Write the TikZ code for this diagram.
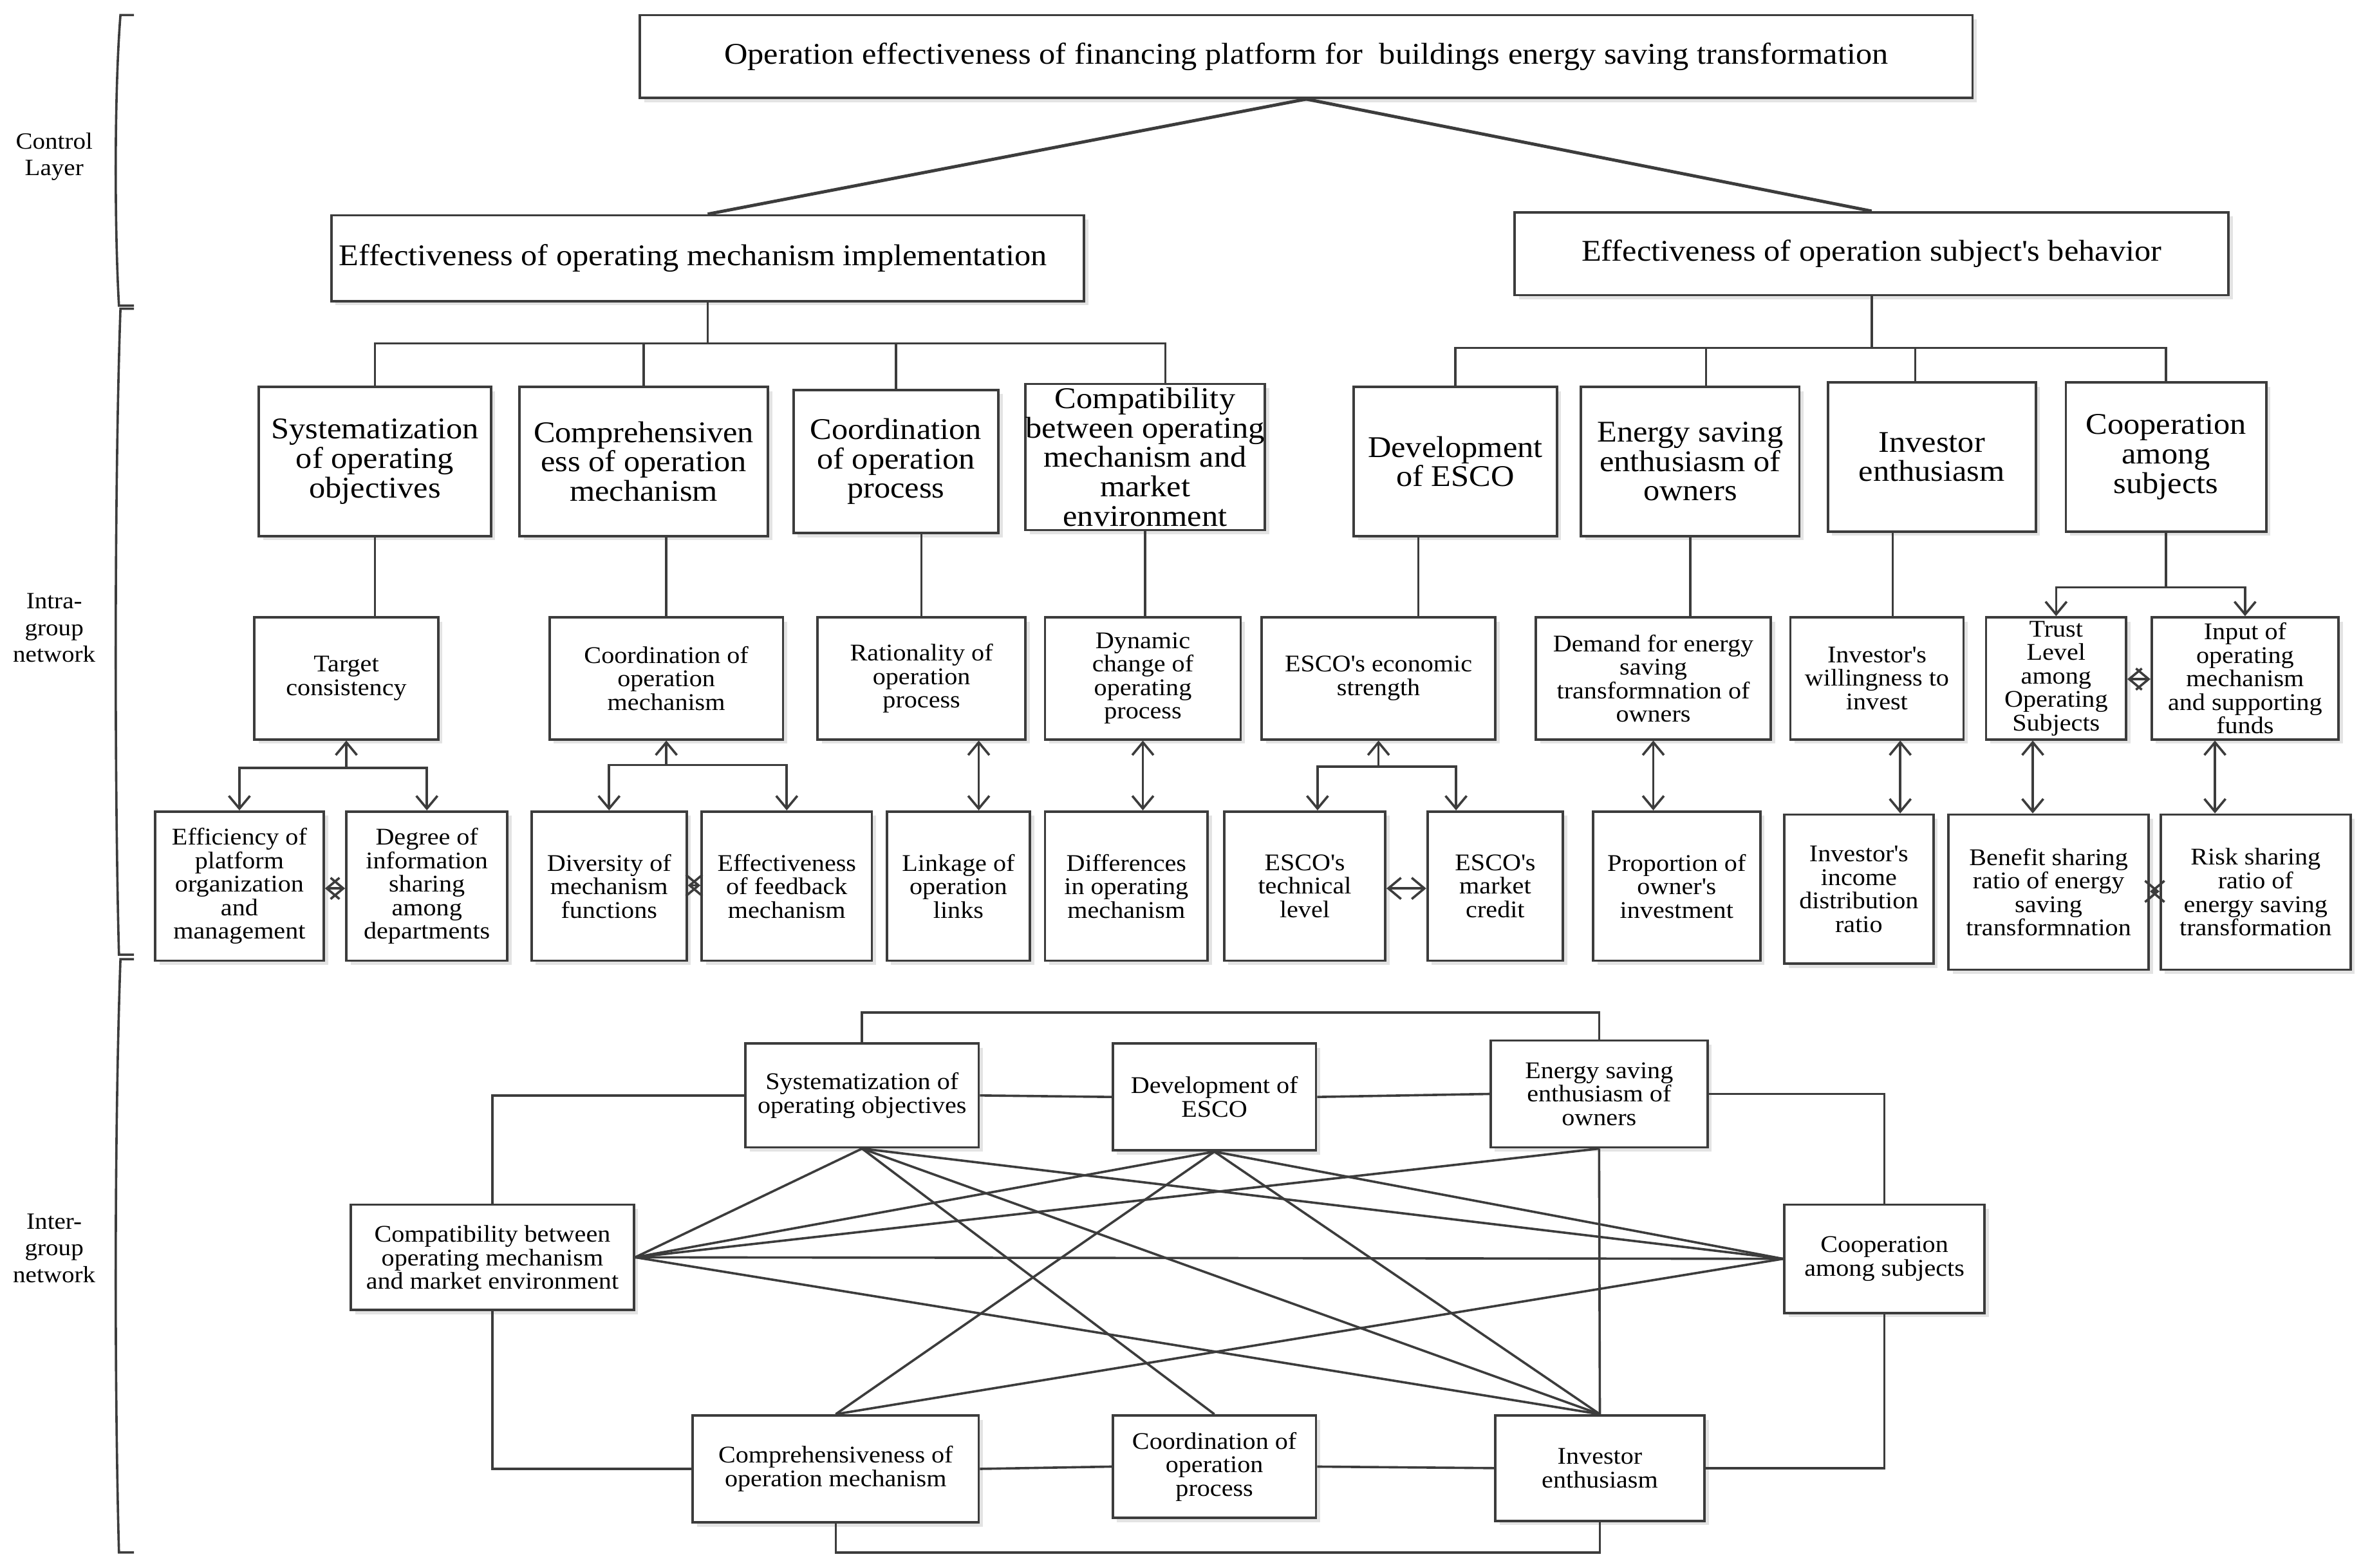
\documentclass[tikz,border=0pt]{standalone}
\usepackage{fontspec}
\setmainfont{Liberation Serif}[FakeStretch=1.08]
\usetikzlibrary{arrows.meta,shadows}
\definecolor{lc}{RGB}{60,60,60}
\newcommand\apo{\textquotesingle}
\tikzset{
  bx/.style={draw=lc, line width=1.15pt, fill=white,
    drop shadow={shadow xshift=2pt,shadow yshift=-2pt,fill=black!11,opacity=1},
    align=center, inner sep=1pt},
  sz/.style 2 args={minimum width=#1*0.025cm, minimum height=#2*0.025cm},
  Lfont/.style={font=\fontsize{14.2}{13.9}\selectfont},
  Sfont/.style={font=\fontsize{11.3}{11.1}\selectfont},
  Cfont/.style={font=\fontsize{11}{12.6}\selectfont, align=center},
  ln/.style={draw=lc, line width=1.1pt},
  tln/.style={draw=lc, line width=1.5pt},
  arr/.style={ln, -{Straight Barb[length=6pt,width=10pt]}},
  dbl/.style={ln, {Straight Barb[length=6pt,width=10pt]}-{Straight Barb[length=6pt,width=10pt]}},
}
\begin{document}
\begin{tikzpicture}[x=0.025cm,y=-0.025cm]
\useasboundingbox (0,0) rectangle (1568,1041);

% ---------- layer labels and brackets ----------
\node[Cfont] (lab1) at (36,104) {Control\\Layer};
\node[Cfont] (lab2) at (36,417) {Intra-\\group\\network};
\node[Cfont] (lab3) at (36,829) {Inter-\\group\\network};
\draw[ln] (89,10) -- (80,10) .. controls (76,60) and (76,150) .. (79,203) -- (89,203);
\draw[ln] (89,205) -- (80,205) .. controls (76,320) and (76,520) .. (79,634) -- (89,634);
\draw[ln] (89,637) -- (80,637) .. controls (76,750) and (76,920) .. (79,1031) -- (89,1031);

% ---------- control layer ----------
\node[bx,Lfont,sz={885}{55}] (T) at (867.5,37.5) {Operation effectiveness of financing platform for\ \ buildings energy saving transformation};
\node[bx,Lfont,sz={500}{57}] (L2a) at (470,171.5) {Effectiveness of operating mechanism implementation\hspace*{14pt}};
\node[bx,Lfont,sz={474}{55}] (L2b) at (1243,168.5) {Effectiveness of operation subject\apo s behavior};
\draw[tln] (T.south) -- (L2a.north);
\draw[tln] (T.south) -- (L2b.north);

% ---------- intra-group level 3 ----------
\node[bx,Lfont,sz={154}{99}] (A1) at (249,306.5) {Systematization\\of operating\\objectives};
\node[bx,Lfont,sz={165}{99}] (A2) at (427.5,306.5) {Comprehensiven\\ess of operation\\mechanism};
\node[bx,Lfont,sz={136}{95}] (A3) at (595,306.5) {Coordination\\of operation\\process};
\node[bx,Lfont,sz={159}{97},label={[Lfont,align=center]center:Compatibility\\between operating\\mechanism and\\market\\environment}] (A4) at (760.5,303.5) {};
\node[bx,Lfont,sz={135}{99}] (B1) at (966.5,306.5) {Development\\of ESCO};
\node[bx,Lfont,sz={145}{99}] (B2) at (1122.5,306.5) {Energy saving\\enthusiasm of\\owners};
\node[bx,Lfont,sz={138}{99}] (B3) at (1283,303.5) {Investor\\enthusiasm};
\node[bx,Lfont,sz={133}{99}] (B4) at (1438.5,303.5) {Cooperation\\among\\subjects};

\draw[ln] (L2a.south) -- (L2a.south |- 0,228) coordinate (la);
\draw[ln] (A1.north) |- (la) -| (774,0 |- A4.north);
\draw[ln] (A2.north) -- (A2.north |- la);
\draw[ln] (A3.north) -- (A3.north |- la);
\draw[ln] (L2b.south) -- (L2b.south |- 0,231) coordinate (rb);
\draw[ln] (B1.north) |- (rb) -| (B4.north);
\draw[ln] (1133,0 |- rb) -- (1133,0 |- B2.north);
\draw[ln] (1272,0 |- rb) -- (1272,0 |- B3.north);

% ---------- level 4 ----------
\node[bx,Sfont,sz={122}{81}] (a1) at (230,450.5) {Target\\consistency};
\node[bx,Sfont,sz={155}{81}] (a2) at (442.5,450.5) {Coordination of\\operation\\mechanism};
\node[bx,Sfont,sz={138}{81}] (a3) at (612,450.5) {Rationality of\\operation\\process};
\node[bx,Sfont,sz={130}{81}] (a4) at (759,450.5) {Dynamic\\change of\\operating\\process};
\node[bx,Sfont,sz={155}{81}] (b1) at (915.5,450.5) {ESCO\apo s economic\\strength};
\node[bx,Sfont,sz={156}{81}] (b2) at (1098,450.5) {Demand for energy\\saving\\transformnation of\\owners};
\node[bx,Sfont,sz={115}{81}] (b3) at (1246.5,450.5) {Investor\apo s\\willingness to\\invest};
\node[bx,Sfont,sz={93}{81}] (b4a) at (1365.5,450.5) {Trust\\Level\\among\\Operating\\Subjects};
\node[bx,Sfont,sz={124}{81}] (b4b) at (1491,450.5) {Input of\\operating\\mechanism\\and supporting\\funds};

\draw[ln] (A1.south) -- (A1.south |- a1.north);
\draw[ln] (a2.north |- A2.south) -- (a2.north);
\draw[ln] (a3.north |- A3.south) -- (a3.north);
\draw[ln] (A4.south) -- (A4.south |- a4.north);
\draw[ln] (942,0 |- B1.south) -- (942,0 |- b1.north);
\draw[ln] (B2.south) -- (B2.south |- b2.north);
\draw[ln] (1257,0 |- B3.south) -- (1257,0 |- b3.north);
\draw[ln] (B4.south) -- (B4.south |- 0,390) coordinate (bq);
\draw[arr] (bq) -| (b4a.north);
\draw[arr] (bq) -| (b4b.north);

% ---------- level 5 ----------
\node[bx,Sfont,sz={112}{99}] (e1) at (159,588.5) {Efficiency of\\platform\\organization\\and\\management};
\node[bx,Sfont,sz={107}{99}] (e2) at (283.5,588.5) {Degree of\\information\\sharing\\among\\departments};
\node[bx,Sfont,sz={103}{99}] (e3) at (404.5,588.5) {Diversity of\\mechanism\\functions};
\node[bx,Sfont,sz={113}{99}] (e4) at (522.5,588.5) {Effectiveness\\of feedback\\mechanism};
\node[bx,Sfont,sz={95}{99}] (e5) at (636.5,588.5) {Linkage of\\operation\\links};
\node[bx,Sfont,sz={108}{99}] (e6) at (748,588.5) {Differences\\in operating\\mechanism};
\node[bx,Sfont,sz={107}{99}] (f1) at (866.5,588.5) {ESCO\apo s\\technical\\level};
\node[bx,Sfont,sz={90}{99}] (f2) at (993,588.5) {ESCO\apo s\\market\\credit};
\node[bx,Sfont,sz={111}{99}] (f3) at (1113.5,588.5) {Proportion of\\owner\apo s\\investment};
\node[bx,Sfont,sz={99}{99}] (f4) at (1234.5,590.5) {Investor\apo s\\income\\distribution\\ratio};
\node[bx,Sfont,sz={133}{103}] (f5) at (1360.5,592.5) {Benefit sharing\\ratio of energy\\saving\\transformnation};
\node[bx,Sfont,sz={126}{103}] (f6) at (1498,592.5) {Risk sharing\\ratio of\\energy saving\\transformation};

\draw[arr] (a1.south |- 0,510) coordinate (am1) -- (a1.south);
\draw[arr] (am1) -| (e1.north);
\draw[arr] (am1) -| (e2.north);
\draw[arr] (a2.south |- 0,508) coordinate (am2) -- (a2.south);
\draw[arr] (am2) -| (e3.north);
\draw[arr] (am2) -| (e4.north);
\draw[arr] (b1.south |- 0,509) coordinate (bm1) -- (b1.south);
\draw[arr] (bm1) -| (875,0 |- f1.north);
\draw[arr] (bm1) -| (967,0 |- f2.north);
\draw[dbl] (650,0 |- a3.south) -- (650,0 |- e5.north);
\draw[dbl] (a4.south) -- (a4.south |- e6.north);
\draw[dbl] (b2.south) -- (b2.south |- f3.north);
\draw[dbl] (1262,0 |- b3.south) -- (1262,0 |- f4.north);
\draw[dbl] (1350,0 |- b4a.south) -- (1350,0 |- f5.north);
\draw[dbl] (1471,0 |- b4b.south) -- (1471,0 |- f6.north);

\draw[dbl] (e1.east |- 0,590) -- (e2.west |- 0,590);
\draw[dbl] (e3.east |- 0,588) -- (e4.west |- 0,588);
\draw[dbl] (f1.east |- 0,590) -- (f2.west |- 0,590);
\draw[dbl] (b4a.east |- 0,451) -- (b4b.west |- 0,451);
\draw[dbl] (f5.east |- 0,592) -- (f6.west |- 0,592);

% ---------- inter-group network ----------
\node[bx,Sfont,sz={155}{69}] (Sys) at (572.5,727.5) {Systematization of\\operating objectives};
\node[bx,Sfont,sz={135}{71}] (Dev) at (806.5,728.5) {Development of\\ESCO};
\node[bx,Sfont,sz={144}{71}] (Ene) at (1062,726.5) {Energy saving\\enthusiasm of\\owners};
\node[bx,Sfont,sz={188}{70}] (Cmp) at (327,835) {Compatibility between\\operating mechanism\\and market environment};
\node[bx,Sfont,sz={133}{72}] (Coo) at (1251.5,836) {Cooperation\\among subjects};
\node[bx,Sfont,sz={190}{71}] (Com) at (555,975.5) {Comprehensiveness of\\operation mechanism};
\node[bx,Sfont,sz={135}{68}] (Crd) at (806.5,974) {Coordination of\\operation\\process};
\node[bx,Sfont,sz={139}{70}] (Inv) at (1062.5,975) {Investor\\enthusiasm};

\draw[ln] (Sys.north) -- (Sys.north |- 0,672.5) -| (Ene.north);
\draw[ln] (Sys.west) -| (Cmp.north);
\draw[ln] (Cmp.south) |- (Com.west);
\draw[ln] (Com.south) -- (Com.south |- 0,1031) -| (Inv.south);
\draw[ln] (Ene.east) -| (Coo.north);
\draw[ln] (Coo.south) |- (Inv.east);
\draw[ln] (Sys.east) -- (Dev.west);
\draw[ln] (Dev.east) -- (Ene.west);
\draw[ln] (Com.east) -- (Crd.west);
\draw[ln] (Crd.east) -- (Inv.west);
\draw[ln] (Ene.south) -- (Inv.north);

\draw[ln] (Sys.south) -- (Cmp.east);
\draw[ln] (Sys.south) -- (Crd.north);
\draw[ln] (Sys.south) -- (Inv.north);
\draw[ln] (Sys.south) -- (Coo.west);
\draw[ln] (Dev.south) -- (Cmp.east);
\draw[ln] (Dev.south) -- (Com.north);
\draw[ln] (Dev.south) -- (Inv.north);
\draw[ln] (Dev.south) -- (Coo.west);
\draw[ln] (Ene.south) -- (Cmp.east);
\draw[ln] (Cmp.east) -- (Coo.west);
\draw[ln] (Cmp.east) -- (Inv.north);
\draw[ln] (Com.north) -- (Coo.west);
\end{tikzpicture}
\end{document}
